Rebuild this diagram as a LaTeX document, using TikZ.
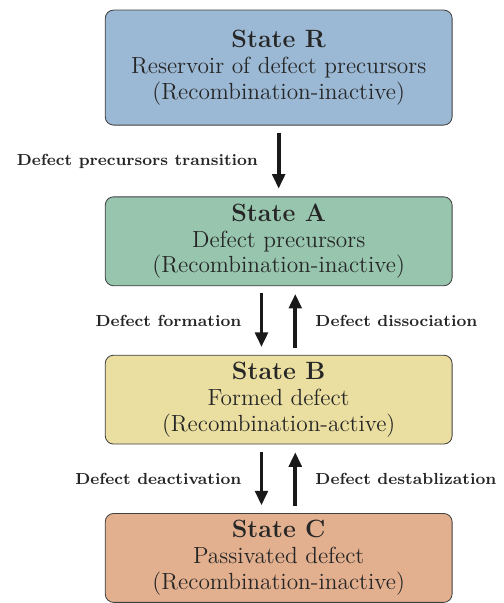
\documentclass[tikz,border=0pt]{standalone}
\usetikzlibrary{arrows.meta,positioning}
\definecolor{colR}{RGB}{155,185,212}
\definecolor{colA}{RGB}{151,197,174}
\definecolor{colB}{RGB}{234,223,160}
\definecolor{colC}{RGB}{227,176,143}
\newcommand{\sttitle}[1]{{\fontsize{12}{14}\selectfont\bfseries #1}}
\tikzset{
    SB/.style ={rectangle,rounded corners=4pt,draw=black!75,thin,align=center,
                minimum width=5.85cm,text=black!85,font=\fontsize{11.2}{12.4}\selectfont},
    SB1/.style ={SB,minimum height=1.94cm},
    SB2/.style ={SB,minimum height=1.45cm},
    AR/.style ={-{Triangle[width=6pt,length=7pt]},line width=1.9pt,black!90,
                shorten <=0.12cm,shorten >=0.13cm},
    LB/.style ={font=\fontsize{7.7}{9}\selectfont\bfseries,text=black!85}}

\begin{document}
\begin{tikzpicture}
        \useasboundingbox (0,0) rectangle (8.49,10.17);
        \node[SB1,fill=colR] (R) at (4.70,9.03) {\sttitle{State R}\\Reservoir of defect precursors\\(Recombination-inactive)};
        \node[SB2,fill=colA] (A) at (4.70,6.10) {\sttitle{State A}\\Defect precursors\\(Recombination-inactive)};
        \node[SB2,fill=colB] (B) at (4.70,3.43) {\sttitle{State B}\\Formed defect\\(Recombination-active)};
        \node[SB2,fill=colC] (C) at (4.70,0.76) {\sttitle{State C}\\Passivated defect\\(Recombination-inactive)};
        % transitions
        \draw[AR] (R.south) -- node[LB,left=0.2cm]{Defect precursors transition} (A.north);
        \draw[AR] ([xshift=-0.29cm]A.south) -- node[LB,left=0.19cm]{Defect formation} ([xshift=-0.29cm]B.north);
        \draw[AR] ([xshift=0.28cm]B.north) -- node[LB,right=0.19cm]{Defect dissociation} ([xshift=0.28cm]A.south);
        \draw[AR] ([xshift=-0.29cm]B.south) -- node[LB,left=0.19cm]{Defect deactivation} ([xshift=-0.29cm]C.north);
        \draw[AR] ([xshift=0.28cm]C.north) -- node[LB,right=0.19cm]{Defect destablization} ([xshift=0.28cm]B.south);
    \end{tikzpicture}
\end{document}
